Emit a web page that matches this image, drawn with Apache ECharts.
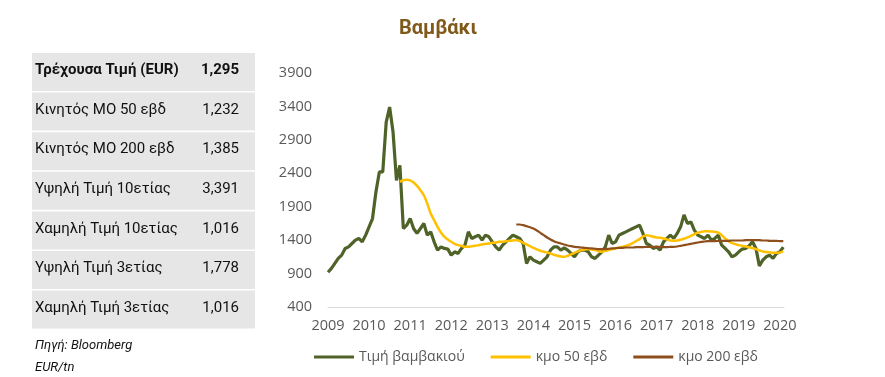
<!DOCTYPE html>
<html><head><meta charset="utf-8">
<script src="https://cdn.jsdelivr.net/npm/echarts@6/dist/echarts.min.js"></script>
<style>html,body{margin:0;padding:0;background:#fff}#c{width:885px;height:377px}</style>
</head><body><div id="c"></div>
<script>
// ---- data ----
const titleText = 'Βαμβάκι';
const seriesNames = ['Τιμή βαμβακιού', 'κμο 50 εβδ', 'κμο 200 εβδ'];
const startYear = 2009;
// monthly values starting Jan 2009 (EUR/tn)
const priceStart = 0;
const priceValues = [
  920, 977, 1052, 1126, 1176, 1276, 1300, 1350, 1400, 1425, 1375, 1475,
  1600, 1723, 2120, 2420, 2420, 3166, 3391, 3017, 2295, 2519, 1574, 1624,
  1723, 1574, 1500, 1574, 1649, 1475, 1524, 1375, 1251, 1300, 1276, 1266,
  1176, 1226, 1201, 1276, 1325, 1524, 1425, 1450, 1475, 1400, 1475, 1450,
  1375, 1300, 1251, 1325, 1375, 1425, 1475, 1450, 1425, 1350, 1052, 1151,
  1101, 1077, 1052, 1101, 1151, 1251, 1300, 1300, 1251, 1285, 1251, 1201,
  1151, 1226, 1251, 1251, 1226, 1151, 1126, 1176, 1226, 1300, 1475, 1350,
  1375, 1475, 1500, 1524, 1549, 1574, 1599, 1624, 1500, 1350, 1325, 1276,
  1300, 1251, 1375, 1425, 1475, 1425, 1500, 1599, 1778, 1649, 1674, 1549,
  1475, 1450, 1425, 1475, 1400, 1425, 1475, 1325, 1276, 1226, 1151, 1176,
  1226, 1266, 1276, 1315, 1375, 1276, 1016, 1101, 1151, 1176, 1126, 1201,
  1226, 1295
];
const ma50Start = 21;
const ma50Values = [
  2271, 2295, 2305,
  2295, 2261, 2211, 2146, 2072, 1947, 1798, 1698, 1599, 1514, 1450, 1410,
  1375, 1345, 1325, 1315, 1300, 1300, 1310, 1315, 1325, 1335, 1345, 1350,
  1360, 1365, 1375, 1375, 1385, 1390, 1395, 1400, 1390, 1360, 1335, 1310,
  1285, 1261, 1241, 1226, 1216, 1201, 1181, 1166, 1156, 1151, 1166, 1186,
  1211, 1231, 1251, 1261, 1266, 1261, 1251, 1236, 1226, 1241, 1251, 1266,
  1276, 1290, 1300, 1315, 1330, 1355, 1385, 1415, 1455, 1475, 1465, 1450,
  1440, 1435, 1425, 1410, 1395, 1390, 1395, 1405, 1420, 1440, 1465, 1490,
  1510, 1524, 1534, 1534, 1529, 1524, 1514, 1475, 1425, 1385, 1355, 1340,
  1325, 1315, 1305, 1295, 1280, 1266, 1246, 1231, 1221, 1216, 1211, 1211,
  1216, 1232
];
const ma200Start = 55;
const ma200Values = [
  1634, 1634, 1624, 1609, 1594,
  1574, 1544, 1509, 1475, 1440, 1410, 1385, 1365, 1350, 1335, 1320, 1310,
  1300, 1295, 1290, 1285, 1280, 1276, 1271, 1266, 1266, 1266, 1271, 1276,
  1280, 1285, 1285, 1290, 1290, 1290, 1295, 1295, 1295, 1300, 1300, 1300,
  1300, 1300, 1295, 1295, 1300, 1300, 1305, 1315, 1325, 1335, 1345, 1355,
  1365, 1375, 1380, 1385, 1385, 1385, 1390, 1390, 1390, 1390, 1395, 1395,
  1395, 1395, 1400, 1400, 1400, 1400, 1400, 1395, 1395, 1390, 1390, 1388,
  1386, 1385
];
const yMin = 400, yMax = 3900, yStep = 500;
const xMin = 2009, xMax = 2020.1;
const tableLabels = ['Τρέχουσα Τιμή (EUR)', 'Κινητός ΜΟ 50 εβδ', 'Κινητός ΜΟ 200 εβδ',
  'Υψηλή Τιμή 10ετίας', 'Χαμηλή Τιμή 10ετίας', 'Υψηλή Τιμή 3ετίας', 'Χαμηλή Τιμή 3ετίας'];
const tableValues = ['1,295', '1,232', '1,385', '3,391', '1,016', '1,778', '1,016'];
const sourceLines = ['Πηγή: Bloomberg', 'EUR/tn'];

// ---- build ----
function toPairs(start, vals) {
  return vals.map((v, i) => [startYear + (start + i) / 12, v]);
}
const FONT = 'Roboto, "Open Sans", sans-serif';
const AXFONT = '"Open Sans", Roboto, sans-serif';
const colors = ['#4F6228', '#FFC000', '#8E4F1C'];
const widths = [3.2, 2.5, 2.2];

const graphics = [];
const rowTop = 53, rowH = 38, rowStep = 39.6;
tableLabels.forEach((lab, i) => {
  const y = rowTop + i * rowStep;
  graphics.push({ type: 'rect', left: 32, top: y, shape: { width: 223, height: rowH },
    style: { fill: '#E7E6E6' }, silent: true });
  graphics.push({ type: 'text', left: 35, top: y + rowH / 2 - 9,
    style: { text: lab, fill: '#111', font: (i === 0 ? 'bold ' : '') + '15px ' + FONT } });
  graphics.push({ type: 'text', right: 885 - 239, top: y + rowH / 2 - 9,
    style: { text: tableValues[i], fill: '#111', font: (i === 0 ? 'bold ' : '') + '15px ' + FONT, textAlign: 'right' } });
});
sourceLines.forEach((s, i) => {
  graphics.push({ type: 'text', left: 35, top: 339 + i * 22,
    style: { text: s, fill: '#111', font: 'italic 13px ' + FONT } });
});

const chart = echarts.init(document.getElementById('c'), null, { renderer: 'canvas' });
chart.setOption({
  animation: false,
  backgroundColor: '#fff',
  title: { text: titleText, left: 433, top: 14, textAlign: 'center',
    textStyle: { color: '#7F5A1A', fontSize: 20, fontWeight: 'bold', fontFamily: FONT } },
  grid: { left: 328, right: 101, top: 73, bottom: 70, containLabel: false },
  legend: {
    data: seriesNames, left: 309, top: 345, icon: 'rect', itemWidth: 40, itemHeight: 3, itemGap: 26,
    textStyle: { color: '#595959', fontSize: 14, fontFamily: AXFONT }
  },
  xAxis: {
    type: 'value', min: xMin, max: xMax, interval: 1,
    axisLine: { show: true, lineStyle: { color: '#D9D9D9', width: 1 } },
    axisTick: { show: false }, splitLine: { show: false },
    axisLabel: { color: '#595959', fontSize: 14.5, fontFamily: AXFONT, margin: 11,
      formatter: v => (Math.abs(v - Math.round(v)) < 1e-6 ? String(Math.round(v)) : '') }
  },
  yAxis: {
    type: 'value', min: yMin, max: yMax, interval: yStep,
    axisLine: { show: false }, axisTick: { show: false }, splitLine: { show: false },
    axisLabel: { color: '#595959', fontSize: 14.5, fontFamily: AXFONT, margin: 16,
      formatter: v => String(v) }
  },
  series: [
    { name: seriesNames[0], type: 'line', data: toPairs(priceStart, priceValues), showSymbol: false,
      lineStyle: { color: colors[0], width: widths[0] }, itemStyle: { color: colors[0] }, z: 3 },
    { name: seriesNames[1], type: 'line', data: toPairs(ma50Start, ma50Values), showSymbol: false, smooth: 0.3,
      lineStyle: { color: colors[1], width: widths[1] }, itemStyle: { color: colors[1] }, z: 4 },
    { name: seriesNames[2], type: 'line', data: toPairs(ma200Start, ma200Values), showSymbol: false, smooth: 0.3,
      lineStyle: { color: colors[2], width: widths[2] }, itemStyle: { color: colors[2] }, z: 5 }
  ],
  graphic: graphics
});
</script></body></html>
